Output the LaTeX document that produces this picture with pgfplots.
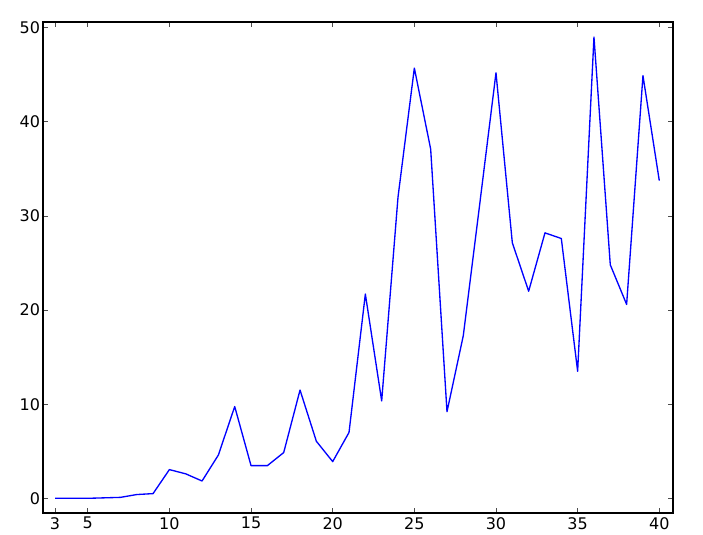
\documentclass[border=0pt]{standalone}
\usepackage{fontspec}
\setmainfont{DejaVu Sans}
\usepackage{pgfplots}
\pgfplotsset{compat=1.18}

\begin{document}
\begin{tikzpicture}
  \begin{axis}[
      scale only axis,
      width=472.5pt, height=368.25pt,
      xmin=2.26, xmax=40.84,
      ymin=-1.56, ymax=50.6,
      xtick={3,5,10,15,20,25,30,35,40},
      ytick={0,10,20,30,40,50},
      tick align=inside,
      major tick length=3.75pt,
      every tick/.style={black!70, line width=0.6pt},
      axis line style={black, line width=0.8pt},
      tick label style={font=\fontsize{12}{14}\selectfont},
      /pgf/number format/assume math mode=true,
      xticklabel style={inner sep=1pt, yshift=-2pt},
      yticklabel style={inner sep=1pt, xshift=-1pt},
    ]
    % the one series
    \addplot[blue, line width=1pt, line join=round] coordinates {
      (3,0) (4,0) (5,0) (6,0.05) (7,0.1) (8,0.4) (9,0.5)
      (10,3.05) (11,2.6) (12,1.84) (13,4.6) (14,9.75) (15,3.47)
      (16,3.47) (17,4.86) (18,11.5) (19,6.06) (20,3.9) (21,7.0)
      (22,21.7) (23,10.35) (24,32.0) (25,45.7) (26,37.1) (27,9.2)
      (28,17.3) (29,31.2) (30,45.2) (31,27.15) (32,22.0) (33,28.2)
      (34,27.6) (35,13.5) (36,49.0) (37,24.8) (38,20.6) (39,44.9)
      (40,33.75)
    };
  \end{axis}
  \pgfresetboundingbox
  \path ([shift={(-32.25pt,-16.5pt)}]current axis.south west)
    rectangle ([shift={(22.5pt,16.5pt)}]current axis.north east);
\end{tikzpicture}
\end{document}
